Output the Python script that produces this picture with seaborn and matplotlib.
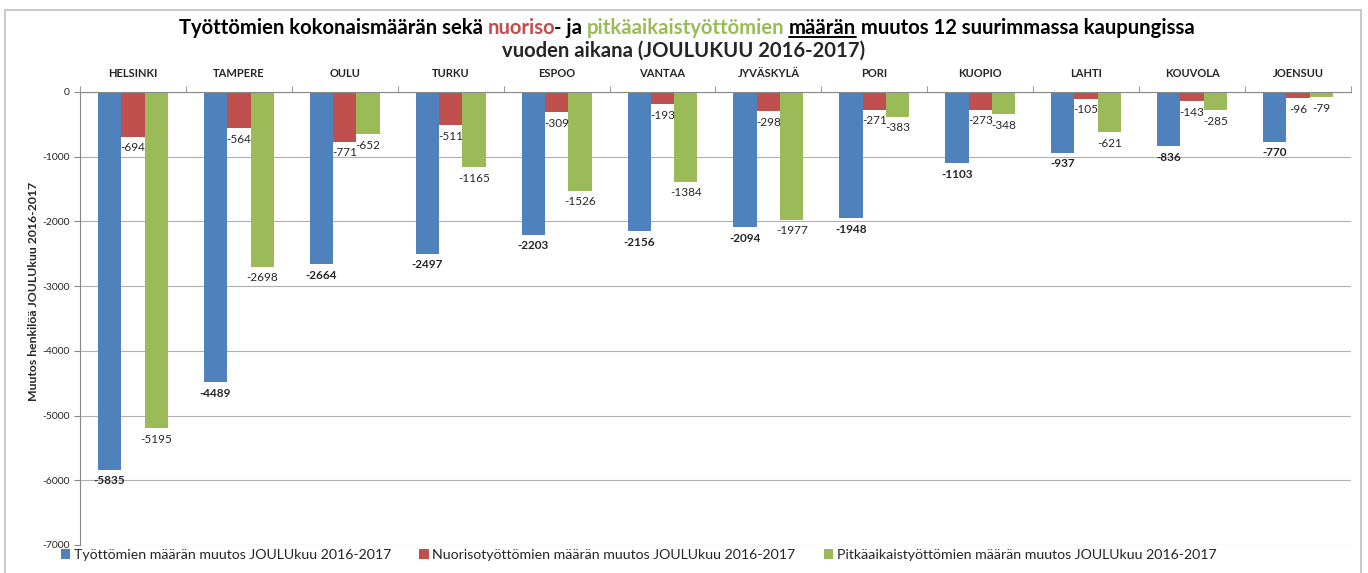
import pandas as pd
import matplotlib.pyplot as plt
import seaborn as sns
from matplotlib.patches import Rectangle
from matplotlib.lines import Line2D

# Datos del grafico
kaupungit = ["HELSINKI", "TAMPERE", "OULU", "TURKU", "ESPOO", "VANTAA",
             "JYVÄSKYLÄ", "PORI", "KUOPIO", "LAHTI", "KOUVOLA", "JOENSUU"]
tyottomat = [-5835, -4489, -2664, -2497, -2203, -2156, -2094, -1948, -1103, -937, -836, -770]
nuoriso = [-694, -564, -771, -511, -309, -193, -298, -271, -273, -105, -143, -96]
pitkaaikais = [-5195, -2698, -652, -1165, -1526, -1384, -1977, -383, -348, -621, -285, -79]
sarjat = ["Työttömien määrän muutos JOULUkuu 2016-2017",
          "Nuorisotyöttömien määrän muutos JOULUkuu 2016-2017",
          "Pitkäaikaistyöttömien määrän muutos JOULUkuu 2016-2017"]
y_ticks = [0, -1000, -2000, -3000, -4000, -5000, -6000, -7000]

colores = ["#4F81BD", "#C0504D", "#9BBB59"]

# Tabla larga para seaborn
df = pd.DataFrame({
    "kaupunki": kaupungit * 3,
    "sarja": [sarjat[0]] * 12 + [sarjat[1]] * 12 + [sarjat[2]] * 12,
    "muutos": tyottomat + nuoriso + pitkaaikais,
})

sns.set_style("white")
plt.rcParams["font.family"] = ["Lato", "DejaVu Sans"]

fig = plt.figure(figsize=(13.68, 5.73), dpi=100)
ax = fig.add_axes([0.0585, 0.049, 0.929, 0.7905])

sns.barplot(data=df, x="kaupunki", y="muutos", hue="sarja", palette=colores,
            width=0.66, saturation=1, errorbar=None, ax=ax, linewidth=0)

# Etiquetas de las barras
for i, cont in enumerate(ax.containers):
    ax.bar_label(cont, padding=4, fontsize=8.5,
                 fontweight="bold" if i == 0 else "normal")

ax.set_ylim(-7000, 0)
ax.set_yticks(y_ticks)
ax.set_yticklabels([str(v) for v in y_ticks], fontsize=7.5)
ax.set_xlim(-0.5, 11.5)
ax.grid(axis="y", color="#b0b0b0", linewidth=0.8)
ax.set_axisbelow(True)

# Eje x arriba
ax.xaxis.tick_top()
ax.set_xticks(range(12))
ax.set_xticklabels(kaupungit, fontsize=8, fontweight="bold")
ax.tick_params(axis="x", which="major", length=0, pad=9)
ax.set_xticks([k + 0.5 for k in range(-1, 12)], minor=True)
ax.tick_params(axis="x", which="minor", length=4, color="#888888", direction="out", top=True)
ax.tick_params(axis="y", length=4, color="#888888", left=True, direction="out")
ax.set_xlabel("")
ax.set_ylabel("Muutos henkilöä JOULUkuu 2016-2017", fontsize=8.8, fontweight="bold")
ax.yaxis.set_label_coords(-0.032, 0.56)

for s in ["right", "bottom"]:
    ax.spines[s].set_visible(False)
for s in ["left", "top"]:
    ax.spines[s].set_color("#888888")
    ax.spines[s].set_linewidth(0.8)

# Leyenda
handles, labels = ax.get_legend_handles_labels()
ax.legend(handles, labels, loc="upper left", bbox_to_anchor=(61 / 1368, 24 / 573),
          bbox_transform=fig.transFigure, ncol=3, frameon=False, fontsize=10.2,
          handlelength=0.65, handleheight=0.65, handletextpad=0.25, columnspacing=2.0,
          borderaxespad=0, borderpad=0)

# Marco exterior
fig.patches.append(Rectangle((0.004, -0.1), 0.991, 1.082, transform=fig.transFigure,
                             fill=False, edgecolor="#bfbfbf", linewidth=1.2))

# Titulo con colores
titulo_partes = [("Työttömien kokonaismäärän sekä ", "black"), ("nuoriso", colores[1]),
                 ("- ja ", "black"), ("pitkäaikaistyöttömien", colores[2]),
                 (" ", "black"), ("määrän", "black"),
                 (" muutos 12 suurimmassa kaupungissa", "black")]
fs_titulo = 14.6
piezas = []
for txt, col in titulo_partes:
    t = fig.text(0, 0, txt, color=col, fontsize=fs_titulo, fontweight="bold",
                 va="baseline", ha="left")
    piezas.append(t)

fig.canvas.draw()
r = fig.canvas.get_renderer()
anchos = [p.get_window_extent(r).width for p in piezas]
anchos[1] -= 2  # el guion va pegado a "nuoriso"
total = sum(anchos)
x0 = 687 - total / 2
y_base = 573 - 34
for p, w in zip(piezas, anchos):
    p.set_transform(None)
    p.set_position((x0, y_base))
    x0 += w

fig.text(684 / 1368, 1 - 57 / 573, "vuoden aikana (JOULUKUU 2016-2017)", fontsize=fs_titulo,
         fontweight="bold", ha="center", va="baseline")

# Subrayado de "määrän"
fig.canvas.draw()
bb = piezas[5].get_window_extent(r)
fig.add_artist(Line2D([bb.x0, bb.x1], [y_base - 3, y_base - 3], transform=None,
                      color="black", linewidth=1.4))

fig.savefig("out.png", dpi=100)
